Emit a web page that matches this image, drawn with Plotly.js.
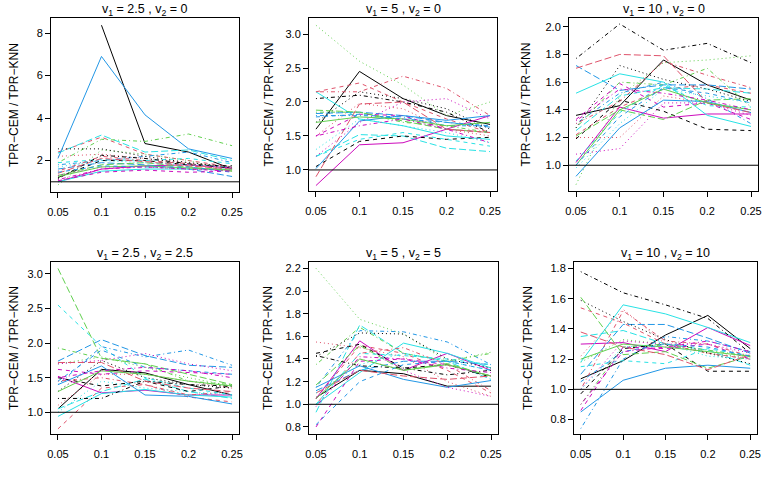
<!DOCTYPE html>
<html><head><meta charset="utf-8">
<script src="https://cdn.plot.ly/plotly-3.0.1.min.js"></script>
<style>html,body{margin:0;padding:0;background:#fff}#plot{width:777px;height:486px}</style>
</head><body><div id="plot"></div>
<script>
const xVals = [0.05, 0.1, 0.15, 0.2, 0.25];
const xTickLabels = ["0.05", "0.1", "0.15", "0.2", "0.25"];
const panelTitles = [
  "v<sub>1</sub> = 2.5 , v<sub>2</sub> = 0",
  "v<sub>1</sub> = 5 , v<sub>2</sub> = 0",
  "v<sub>1</sub> = 10 , v<sub>2</sub> = 0",
  "v<sub>1</sub> = 2.5 , v<sub>2</sub> = 2.5",
  "v<sub>1</sub> = 5 , v<sub>2</sub> = 5",
  "v<sub>1</sub> = 10 , v<sub>2</sub> = 10"
];
const yTitle = "TPR\u2212CEM / TPR\u2212KNN";
const refLine = 1;

const panel1 = [
[null,8.37,2.8,2.4,1.6],[2.4,3.1,2.3,2.0,1.7],[0.85,2.5,2.3,2.0,1.5],[1.8,2.0,2.2,2.4,1.9],
[2.35,3.2,2.4,2.5,2.0],[1.0,1.6,1.75,1.8,1.65],[1.2,2.0,2.0,1.8,1.75],[2.2,2.3,2.1,1.9,1.7],
[1.9,3.0,2.9,3.25,2.7],[1.6,1.9,1.8,1.6,1.25],[1.0,1.5,1.6,1.6,1.6],[1.05,1.45,1.55,1.45,1.5],
[2.55,2.55,2.2,1.9,1.7],[1.5,2.2,2.0,1.85,1.5],[1.3,1.8,1.9,1.7,1.5],[2.1,6.9,4.15,2.55,2.1],
[1.9,2.05,2.0,2.1,1.85],[1.3,1.7,1.7,1.6,1.55],[1.15,2.25,2.1,1.85,1.65],[1.4,2.1,1.95,1.75,1.6],
[1.25,1.7,1.75,1.65,1.55],[1.45,1.75,1.7,1.7,1.45],[1.7,2.0,1.9,1.8,1.7],[1.1,1.6,1.7,1.6,1.5]];
const panel2 = [
[1.6,2.45,2.05,1.8,1.67],[2.15,2.28,2.0,1.75,1.55],[3.13,2.6,2.25,1.8,2.0],[1.8,1.8,1.78,1.65,1.65],
[1.2,1.52,1.5,1.32,1.27],[0.77,1.37,1.4,1.6,1.8],[1.05,1.42,1.5,1.45,1.48],[1.5,1.98,1.9,1.6,1.5],
[1.85,1.85,1.7,1.65,1.55],[1.83,1.85,1.8,1.7,1.63],[2.15,1.75,1.65,1.5,1.45],[1.5,1.82,1.8,1.6,1.55],
[1.7,2.15,2.05,1.9,1.6],[2.15,2.15,2.38,2.2,1.8],[1.88,1.85,1.72,1.6,1.55],[1.02,1.72,1.8,1.73,1.8],
[1.2,1.45,1.55,1.45,1.35],[1.2,1.7,2.0,2.05,1.75],[2.05,2.1,2.0,1.85,1.55],[0.9,1.97,2.0,1.6,1.55],
[1.7,1.78,1.75,1.65,1.7],[1.78,1.82,1.75,1.7,1.65],[1.3,1.75,1.65,1.55,1.4],[1.5,1.65,1.75,1.6,1.4]];
const panel3 = [
[1.36,1.43,1.76,1.58,1.47],[1.22,1.42,1.55,1.58,1.52],[0.86,1.5,1.74,1.76,1.79],[1.3,1.52,1.6,1.48,1.3],
[1.25,1.5,1.56,1.55,1.52],[1.02,1.42,1.34,1.37,1.37],[1.19,1.47,1.39,1.26,1.25],[1.2,1.2,1.5,1.45,1.38],
[1.27,1.6,1.58,1.7,1.42],[1.72,1.54,1.58,1.58,1.55],[1.52,1.66,1.6,1.36,1.28],[1.33,1.59,1.42,1.45,1.33],
[1.27,1.72,1.62,1.55,1.46],[1.3,1.46,1.75,1.65,1.56],[1.21,1.4,1.33,1.47,1.48],[0.92,1.27,1.47,1.46,1.38],
[1.03,1.38,1.58,1.43,1.42],[1.08,1.12,1.45,1.45,1.36],[1.77,2.02,1.83,1.88,1.74],[1.7,1.8,1.79,1.45,1.38],
[1.0,1.4,1.55,1.45,1.4],[1.0,1.35,1.56,1.52,1.45],[0.98,1.3,1.55,1.5,1.45],[1.32,1.55,1.52,1.47,1.4]];
const panel4 = [
[1.05,1.62,1.57,1.4,1.25],[0.76,1.35,1.4,1.22,1.15],[1.7,1.8,1.65,1.5,1.38],[1.4,1.95,1.8,1.9,1.68],
[1.05,1.3,1.48,1.3,1.2],[1.52,1.28,1.32,1.25,1.25],[1.5,1.38,1.45,1.3,1.38],[1.1,1.55,1.55,1.45,1.35],
[1.93,1.78,1.7,1.45,1.4],[1.74,2.05,1.82,1.68,1.65],[0.94,1.27,1.33,1.25,1.22],[1.62,1.55,1.6,1.58,1.55],
[1.3,1.75,1.5,1.4,1.35],[1.45,1.5,1.4,1.25,1.3],[3.08,1.78,1.7,1.55,1.4],[1.4,1.67,1.25,1.23,1.12],
[2.55,1.95,1.5,1.35,1.25],[1.7,1.75,1.85,1.7,1.6],[1.2,1.2,1.45,1.4,1.38],[1.72,1.72,1.45,1.35,1.3],
[1.3,1.6,1.55,1.45,1.38],[1.45,1.9,1.65,1.6,1.55],[1.0,1.45,1.35,1.3,1.25],[1.5,1.6,1.65,1.6,1.5]];
const panel5 = [
[1.06,1.3,1.27,1.16,1.16],[1.05,1.52,1.45,1.3,1.1],[2.2,1.75,1.62,1.38,1.46],[1.15,1.65,1.64,1.55,1.35],
[0.93,1.7,1.45,1.38,1.22],[1.05,1.56,1.3,1.45,1.3],[1.45,1.53,1.32,1.35,1.24],[1.55,1.5,1.42,1.2,1.07],
[1.35,1.68,1.45,1.38,1.45],[1.12,1.3,1.38,1.38,1.35],[1.0,1.28,1.54,1.45,1.32],[0.8,1.38,1.4,1.35,1.25],
[1.42,1.63,1.62,1.4,1.32],[1.0,1.45,1.5,1.35,1.12],[1.17,1.52,1.3,1.36,1.25],[1.15,1.34,1.22,1.15,1.21],
[1.0,1.45,1.43,1.4,1.35],[1.05,1.4,1.3,1.15,1.07],[1.43,1.34,1.32,1.26,1.3],[1.1,1.3,1.25,1.22,1.25],
[1.05,1.4,1.3,1.35,1.25],[0.82,1.2,1.35,1.38,1.3],[1.1,1.35,1.45,1.38,1.3],[0.98,1.42,1.4,1.32,1.28]];
const panel6 = [
[1.07,1.19,1.36,1.49,1.27],[1.54,1.44,1.3,1.24,1.2],[1.18,1.33,1.3,1.24,1.21],[0.74,1.2,1.35,1.32,1.25],
[1.35,1.39,1.3,1.26,1.16],[1.3,1.31,1.25,1.41,1.29],[0.97,1.27,1.3,1.12,1.12],[1.22,1.53,1.3,1.24,1.2],
[0.9,1.28,1.3,1.26,1.22],[1.1,1.43,1.43,1.34,1.24],[1.18,1.56,1.5,1.41,1.31],[0.86,1.28,1.27,1.3,1.2],
[1.59,1.45,1.33,1.24,1.17],[1.0,1.52,1.32,1.3,1.22],[1.61,1.23,1.25,1.14,1.22],[0.85,1.06,1.14,1.16,1.14],
[1.15,1.19,1.17,1.27,1.22],[1.0,1.32,1.3,1.3,1.24],[1.78,1.64,1.56,1.47,1.24],[1.38,1.28,1.23,1.13,1.23],
[1.2,1.3,1.28,1.25,1.22],[1.05,1.25,1.3,1.28,1.22],[1.0,1.28,1.3,1.22,1.2],[0.9,1.25,1.28,1.32,1.25]];

const yTicks1 = [2,4,6,8];
const yTicks2 = [1.0,1.5,2.0,2.5,3.0];
const yTicks3 = [1.0,1.2,1.4,1.6,1.8,2.0];
const yTicks4 = [1.0,1.5,2.0,2.5,3.0];
const yTicks5 = [0.8,1.0,1.2,1.4,1.6,1.8,2.0,2.2];
const yTicks6 = [0.8,1.0,1.2,1.4,1.6,1.8];

const palette = ["#000000","#DF536B","#61D04F","#2297E6","#28E2E5","#CD0BBC"];
const dashes = ["solid","4px,4px","1px,3px","1px,3px,4px,3px","7px,3px"];

const W = 777, H = 486;
// panel boxes in pixels [left, right, top, bottom]
const boxes = [[51,239,18,192],[309,497,18,191],[569,758,18,191],[51,239,262,434],[309,498,262,434],[574,757,262,434]];
const yRanges = [[0.52,8.71],[0.69,3.236],[0.814,2.063],[0.686,3.173],[0.738,2.256],[0.704,1.844]];
const panels = [panel1,panel2,panel3,panel4,panel5,panel6];
const yTicksAll = [yTicks1,yTicks2,yTicks3,yTicks4,yTicks5,yTicks6];
const yTitleX = [14, 268, 525, 14, 268, 528];

const font = "Liberation Sans, Arial, sans-serif";
const traces = [];
const layout = {
  width: W, height: H, margin:{l:0,r:0,t:0,b:0},
  paper_bgcolor:"#fff", plot_bgcolor:"#fff", showlegend:false,
  font:{family:font, size:11, color:"#000"},
  shapes:[], annotations:[]
};

panels.forEach((series, p) => {
  const sfx = p === 0 ? "" : String(p+1);
  const b = boxes[p];
  series.forEach((vals, i) => {
    traces.push({
      x: xVals, y: vals, type:"scatter", mode:"lines",
      xaxis:"x"+sfx, yaxis:"y"+sfx, connectgaps:false, hoverinfo:"skip",
      line:{color:palette[i%6], width:1, dash:dashes[i%5]}
    });
  });
  const yt = yTicksAll[p];
  const decimals = p === 0 ? 0 : 1;
  layout["xaxis"+sfx] = {
    domain:[b[0]/W, b[1]/W], anchor:"y"+sfx, range:[0.042,0.258],
    tickmode:"array", tickvals:xVals, ticktext:xTickLabels,
    ticks:"outside", ticklen:5, tickwidth:1, tickcolor:"#000",
    showline:true, linecolor:"#000", linewidth:1, mirror:true,
    showgrid:false, zeroline:false, tickfont:{size:11, family:font},
    ticklabelstandoff:5
  };
  layout["yaxis"+sfx] = {
    domain:[1-b[3]/H, 1-b[2]/H], anchor:"x"+sfx, range:yRanges[p],
    tickmode:"array", tickvals:yt, ticktext:yt.map(v=>v.toFixed(decimals)),
    ticks:"outside", ticklen:5, tickwidth:1, tickcolor:"#000",
    showline:true, linecolor:"#000", linewidth:1, mirror:true,
    showgrid:false, zeroline:false, tickfont:{size:11, family:font}
  };
  layout.shapes.push({type:"line", xref:"x"+sfx+" domain", x0:0, x1:1,
    yref:"y"+sfx, y0:refLine, y1:refLine, line:{color:"#000", width:1}});
  layout.annotations.push({text:panelTitles[p], xref:"paper", yref:"paper",
    x:(b[0]+b[1])/2/W, y:1-(b[2]-8)/H, xanchor:"center", yanchor:"middle",
    showarrow:false, font:{size:12.5, family:font}});
  layout.annotations.push({text:yTitle, xref:"paper", yref:"paper",
    x:yTitleX[p]/W, y:1-((b[2]+b[3])/2)/H, xanchor:"center", yanchor:"middle",
    textangle:-90, showarrow:false, font:{size:12, family:font}});
});

Plotly.newPlot("plot", traces, layout, {displayModeBar:false, staticPlot:true});
</script></body></html>
